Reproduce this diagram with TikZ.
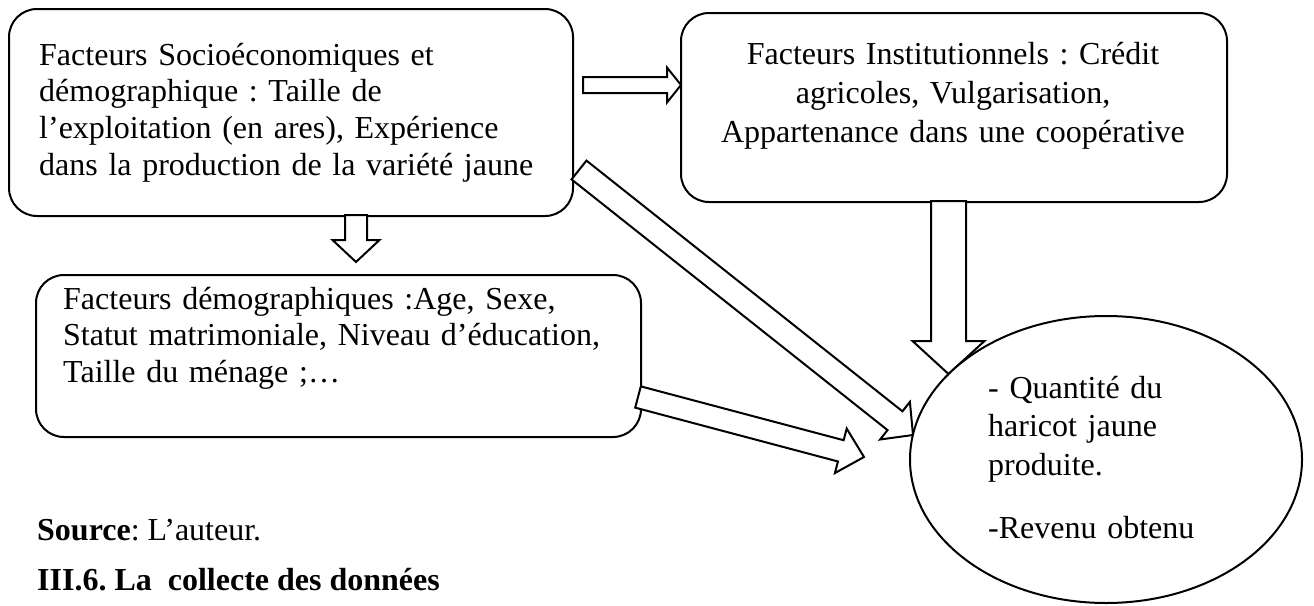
\documentclass[tikz,border=0pt]{standalone}
\usepackage{fontspec}
\setmainfont{Liberation Serif}
\usetikzlibrary{calc,shapes.geometric}

\tikzset{
  box/.style={draw, line width=2pt, rounded corners=28pt, fill=white, inner sep=0pt},
  oval/.style={draw, ellipse, line width=2pt, fill=white, inner sep=0pt},
  blockarrow/.style={draw, line width=2pt, fill=white, line join=miter},
  txt/.style={inner sep=0pt, font=\fontsize{32}{36.8}\selectfont\frenchspacing},
  widetxt/.style={inner sep=0pt, font=\fontsize{32}{39}\selectfont\frenchspacing},
}

% hollow block arrow: tail, tip, half shaft width, half head width, head length
\newcommand\bigarrow[5]{%
  \coordinate (ba-base) at ($(#2)!#5!(#1)$);
  \draw[blockarrow] ($(#1)!#3!90:(#2)$) -- ($(ba-base)!#3!-90:(#1)$)
    -- ($(ba-base)!#4!-90:(#1)$) -- (#2) -- ($(ba-base)!#4!90:(#1)$)
    -- ($(ba-base)!#3!90:(#1)$) -- ($(#1)!#3!-90:(#2)$) -- cycle;
}

\begin{document}
\begin{tikzpicture}[x=1pt,y=-1pt]
\useasboundingbox (0,0) rectangle (1314,605);

% boxes
\node[box, minimum width=564pt, minimum height=207pt, anchor=north west] (soc) at (8,8) {};
\node[box, minimum width=546pt, minimum height=189pt, anchor=north west] (inst) at (680,12) {};
\node[box, minimum width=605pt, minimum height=162pt, anchor=north west] (demo) at (35,274) {};

% box texts
\node[txt, text width=525pt, align=left, anchor=base west] (soctext) at (39,65)
  {Facteurs Socioéconomiques et\\
   démographique : Taille de\\
   l’exploitation (en ares), Expérience\\
   dans la production de la variété jaune};
\node[widetxt, text width=530pt, align=center, anchor=base] (insttext) at (953,64)
  {Facteurs Institutionnels : Crédit\\
   agricoles, Vulgarisation,\\
   Appartenance dans une coopérative};
\node[txt, text width=570pt, align=left, anchor=base west] (demotext) at (63,309)
  {Facteurs démographiques :Age, Sexe,\\
   Statut matrimoniale, Niveau d’éducation,\\
   Taille du ménage ;…};

% arrow end points
\coordinate (a1s) at (583,85);    \coordinate (a1e) at (681,85);
\coordinate (a2s) at (356,215);   \coordinate (a2e) at (356,262);
\coordinate (a3s) at (948.5,201); \coordinate (a3e) at (948.5,374);
\coordinate (a4s) at (579,170);   \coordinate (a4e) at (913,435);
\coordinate (a5s) at (638,397);   \coordinate (a5e) at (864,457);

\bigarrow{a1s}{a1e}{8pt}{17.5pt}{14pt}
\bigarrow{a2s}{a2e}{11pt}{23.5pt}{22pt}
\bigarrow{a3s}{a3e}{17.5pt}{36pt}{33pt}
\bigarrow{a4s}{a4e}{12pt}{24pt}{23pt}
\bigarrow{a5s}{a5e}{11pt}{23pt}{24pt}

% outcome
\node[oval, minimum width=392pt, minimum height=287pt] (res) at (1106,459.5) {};
\node[txt, font=\fontsize{32}{38.5}\selectfont, text width=250pt, align=left, anchor=base west] (restext) at (988,398)
  {- Quantité du\\
   haricot jaune\\
   produite.\\[24.5pt]
   -Revenu obtenu};

% caption lines
\node[txt, anchor=base west] (src) at (37,540) {\textbf{Source}: L’auteur.};
\node[txt, anchor=base west] (sec) at (37,590) {\textbf{III.6. La\ \ collecte des données}};
\end{tikzpicture}
\end{document}
